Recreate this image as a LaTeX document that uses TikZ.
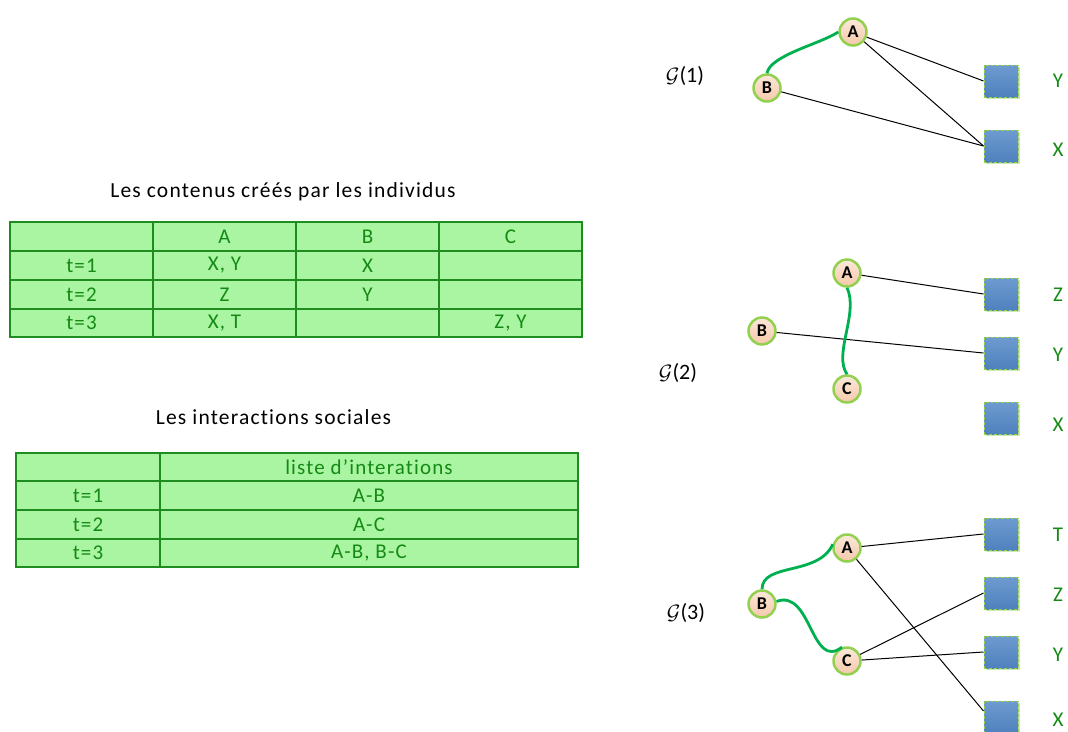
\documentclass[tikz,border=0pt]{standalone}
\usepackage{fontspec}
\setmainfont{Carlito}
\newfontfamily\spaced[LetterSpace=5.5,Ligatures={NoCommon}]{Carlito}
\usetikzlibrary{shadows,calc}
\definecolor{tgreen}{RGB}{20,138,20}
\definecolor{bgreen}{RGB}{30,140,30}
\definecolor{cellfill}{RGB}{170,245,162}
\definecolor{lgreen}{RGB}{146,208,80}
\definecolor{cgreen}{RGB}{0,176,80}
\definecolor{peach1}{RGB}{252,232,218}
\definecolor{peach2}{RGB}{245,200,170}
\definecolor{blue1}{RGB}{110,155,208}
\definecolor{blue2}{RGB}{79,129,189}
\begin{document}
\begin{tikzpicture}[x=1pt,y=-1pt,
  person/.style={circle, minimum size=27pt, inner sep=0pt, draw=lgreen, line width=2.5pt,
    top color=peach1, bottom color=peach2, font=\fontsize{18}{18}\selectfont\bfseries},
  item/.style={rectangle, minimum width=34pt, minimum height=32pt, inner sep=0pt,
    top color=blue1, bottom color=blue2, draw=lgreen, densely dashed, line width=1pt,
    drop shadow={shadow xshift=2pt, shadow yshift=-2pt, fill=lgreen, opacity=0.45}},
  lab/.style={text=tgreen, font=\fontsize{21}{21}\selectfont, inner sep=0pt},
  glab/.style={font=\fontsize{22}{22}\selectfont, inner sep=0pt},
  title/.style={font=\spaced\fontsize{21.5}{21.5}\selectfont, inner sep=0pt},
  cell/.style={text=tgreen, font=\spaced\fontsize{21}{21}\selectfont, inner sep=0pt},
  grid/.style={draw=bgreen, line width=1.5pt},
  link/.style={draw=black, line width=1pt},
  social/.style={draw=cgreen, line width=2.8pt}
]
\useasboundingbox (0,0) rectangle (1068,731);

% ---------- Table 1 ----------
\node[title] (title1) at (283,192) {Les contenus créés par les individus};
\fill[cellfill] (10,222) rectangle (582,337);
\draw[grid] (10,222) rectangle (582,337);
\foreach \yy in {251,280,309} \draw[grid] (10,\yy) -- (582,\yy);
\foreach \xx in {153,296,439} \draw[grid] (\xx,222) -- (\xx,337);
\node[cell] (ta1) at (224.5,236.5) {A};
\node[cell] (tb1) at (367.5,236.5) {B};
\node[cell] (tc1) at (510.5,236.5) {C};
\node[cell] (tr1) at (81.5,265.5) {t=1};
\node[cell] (tr2) at (81.5,294.5) {t=2};
\node[cell] (tr3) at (81.5,323) {t=3};
\node[cell] (ta11) at (224.5,265.5) {X, Y};
\node[cell] (tb11) at (367.5,265.5) {X};
\node[cell] (ta12) at (224.5,294.5) {Z};
\node[cell] (tb12) at (367.5,294.5) {Y};
\node[cell] (ta13) at (224.5,323) {X, T};
\node[cell] (tc13) at (510.5,323) {Z, Y};

% ---------- Table 2 ----------
\node[title] (title2) at (273.5,417) {Les interactions sociales};
\fill[cellfill] (16,453) rectangle (578,567);
\draw[grid] (16,453) rectangle (578,567);
\foreach \yy in {481,510,539} \draw[grid] (16,\yy) -- (578,\yy);
\draw[grid] (160,453) -- (160,567);
\node[cell] (sh) at (369,467) {liste d’interations};
\node[cell] (sr1) at (88,495.5) {t=1};
\node[cell] (sr2) at (88,524.5) {t=2};
\node[cell] (sr3) at (88,553) {t=3};
\node[cell] (sv1) at (369,495.5) {A-B};
\node[cell] (sv2) at (369,524.5) {A-C};
\node[cell] (sv3) at (369,553) {A-B, B-C};

% ---------- Graph 1 ----------
\node[glab] (g1) at (685,76) {$\mathcal{G}$(1)};
\node[person] (A1) at (853,32) {A};
\node[person] (B1) at (767,88) {B};
\node[item] (Y1) at (1001,81) {};
\node[item] (X1) at (1001,146) {};
\node[lab] (lY1) at (1058,81) {Y};
\node[lab] (lX1) at (1058,150) {X};
\draw[link] (A1) -- (Y1.west);
\draw[link] (A1) -- (X1.west);
\draw[link] (B1) -- (X1.west);
\draw[social] (B1.north) .. controls +(3,-18) and +(-18,12) .. (A1.west);

% ---------- Graph 2 ----------
\node[glab] (g2) at (678,373) {$\mathcal{G}$(2)};
\node[person] (A2) at (847,273) {A};
\node[person] (B2) at (762,331) {B};
\node[person] (C2) at (847,389) {C};
\node[item] (Z2) at (1001,294) {};
\node[item] (Y2) at (1001,353) {};
\node[item] (X2) at (1001,418) {};
\node[lab] (lZ2) at (1058,295) {Z};
\node[lab] (lY2) at (1058,355) {Y};
\node[lab] (lX2) at (1058,425) {X};
\draw[link] (A2) -- (Z2.west);
\draw[link] (B2) -- (Y2.west);
\draw[social] (A2.south) .. controls +(12,25) and +(-14,-20) .. (C2.north);

% ---------- Graph 3 ----------
\node[glab] (g3) at (686,613) {$\mathcal{G}$(3)};
\node[person] (A3) at (847,548) {A};
\node[person] (B3) at (762,604) {B};
\node[person] (C3) at (847,661) {C};
\node[item] (T3) at (1001,534) {};
\node[item] (Z3) at (1001,593) {};
\node[item] (Y3) at (1001,652) {};
\node[item] (X3) at (1001,717) {};
\node[lab] (lT3) at (1058,535) {T};
\node[lab] (lZ3) at (1058,595) {Z};
\node[lab] (lY3) at (1058,655) {Y};
\node[lab] (lX3) at (1058,720) {X};
\draw[link] (A3) -- (T3.west);
\draw[link] (A3) -- ($(X3.west)+(0,-6)$);
\draw[link] (C3) -- (Z3.west);
\draw[link] (C3) -- (Y3.west);
\draw[social] (B3.north) .. controls +(0,-27) and +(-14,32) .. (A3.165);
\draw[social] (B3.10) .. controls +(35,-13) and +(-31,24) .. (C3.110);
\end{tikzpicture}
\end{document}
